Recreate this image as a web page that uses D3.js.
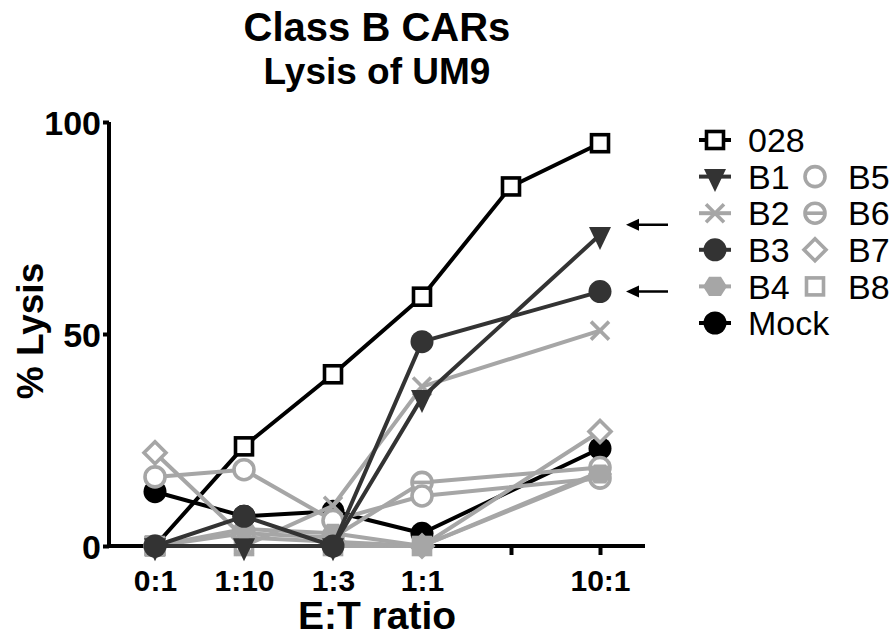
<!DOCTYPE html>
<html>
<head>
<meta charset="utf-8">
<script src="https://cdn.jsdelivr.net/npm/d3@7/dist/d3.min.js"></script>
<style>
	body { margin: 0; background: #fff; }
	text { font-family: Arial, "Liberation Sans", sans-serif; }
</style>
</head>
<body>
<svg id="chart" width="894" height="639"></svg>
<script>
// E:T ratios on the x axis (3:1 has a tick but no label)
const ratios = ['0:1', '1:10', '1:3', '1:1', '3:1', '10:1']
const ratioLabels = ['0:1', '1:10', '1:3', '1:1', '', '10:1']
const yTicks = [0, 50, 100]

// % lysis per ratio, null = not measured
const lysis028 = [0, 23.5, 40.5, 58.8, 84.8, 95]
const lysisB1 = [0, 0, 0, 35, null, 73.4]
const lysisB2 = [0, 0, 9.5, 37.6, null, 50.8]
const lysisB3 = [0, 7, 0, 48.2, null, 60]
const lysisB4 = [0, 4, 3, 0, null, 17]
const lysisB5 = [16.3, 18, 6, 11.8, null, 16]
const lysisB6 = [0, 3, 2, 15, null, 18.5]
const lysisB7 = [22, 2, 1, 0, null, 27]
const lysisB8 = [0, 0, 0, 0, null, 17.5]
const lysisMock = [12.8, 7, 8.2, 3, null, 23]

// arrows on the right point at B1 and B3
const arrowSeries = ['B1', 'B3']

const BLACK = '#000'
const DARK = '#333'
const LIGHT = '#a6a6a6'

// drawing order, bottom first
const series = [
	{ name: '028', values: lysis028, color: BLACK, marker: 'squareOpen' },
	{ name: 'Mock', values: lysisMock, color: BLACK, marker: 'circleFilled' },
	{ name: 'B8', values: lysisB8, color: LIGHT, marker: 'squareOpen' },
	{ name: 'B7', values: lysisB7, color: LIGHT, marker: 'diamondOpen' },
	{ name: 'B6', values: lysisB6, color: LIGHT, marker: 'circleBar' },
	{ name: 'B5', values: lysisB5, color: LIGHT, marker: 'circleOpen' },
	{ name: 'B4', values: lysisB4, color: LIGHT, marker: 'hexFilled' },
	{ name: 'B2', values: lysisB2, color: LIGHT, marker: 'cross' },
	{ name: 'B1', values: lysisB1, color: DARK, marker: 'triDown' },
	{ name: 'B3', values: lysisB3, color: DARK, marker: 'circleFilled' },
]

// legend columns
const legendCol1 = ['028', 'B1', 'B2', 'B3', 'B4', 'Mock']
const legendCol2 = ['B5', 'B6', 'B7', 'B8']

const svg = d3.select('#chart')

const plot = { left: 109, right: 645, top: 122, bottom: 546 }

const x = d3.scalePoint().domain(ratios).range([155, 600])
const y = d3.scaleLinear().domain([0, 100]).range([plot.bottom, plot.top])

const SW = 3.6

function drawMarker(g, type, color, cx, cy) {
	const m = g.append('g').attr('transform', `translate(${cx},${cy})`)
	switch (type) {
		case 'squareOpen':
			m.append('rect').attr('x', -8.5).attr('y', -8.5).attr('width', 17).attr('height', 17)
				.attr('fill', '#fff').attr('stroke', color).attr('stroke-width', SW)
			break
		case 'circleFilled':
			m.append('circle').attr('r', 11.5).attr('fill', color)
			break
		case 'circleOpen':
			m.append('circle').attr('r', 10).attr('fill', '#fff').attr('stroke', color).attr('stroke-width', SW)
			break
		case 'circleBar':
			m.append('circle').attr('r', 10).attr('fill', '#fff').attr('stroke', color).attr('stroke-width', SW)
			m.append('line').attr('x1', -10).attr('x2', 10).attr('stroke', color).attr('stroke-width', SW)
			break
		case 'hexFilled':
			m.append('path').attr('d', d3.line()(d3.range(6).map(i => {
				const a = Math.PI / 3 * i
				return [12 * Math.cos(a), 11 * Math.sin(a)]
			})) + 'Z').attr('fill', color)
			break
		case 'diamondOpen':
			m.append('path').attr('d', 'M0,-11L11,0L0,11L-11,0Z')
				.attr('fill', '#fff').attr('stroke', color).attr('stroke-width', SW)
			break
		case 'cross':
			m.append('path').attr('d', 'M-9,-9L9,9M-9,9L9,-9')
				.attr('stroke', color).attr('stroke-width', SW).attr('fill', 'none')
			break
		case 'triDown':
			m.append('path').attr('d', 'M-11,-7.7L11,-7.7L0,15.3Z').attr('fill', color)
			break
	}
	return m
}

// title
const midX = (plot.left + plot.right) / 2
svg.append('text').attr('x', midX).attr('y', 41).attr('text-anchor', 'middle')
	.attr('font-size', 40).attr('font-weight', 'bold').text('Class B CARs')
svg.append('text').attr('x', midX).attr('y', 84).attr('text-anchor', 'middle')
	.attr('font-size', 37).attr('font-weight', 'bold').text('Lysis of UM9')

// axes
const yAxis = svg.append('g').attr('transform', `translate(${plot.left},0)`)
	.call(d3.axisLeft(y).tickValues(yTicks).tickSize(6).tickPadding(2).tickSizeOuter(0))
const xAxis = svg.append('g').attr('transform', `translate(0,${plot.bottom})`)
	.call(d3.axisBottom(x).tickFormat((d, i) => ratioLabels[i]).tickSize(9).tickPadding(15).tickSizeOuter(0))

yAxis.select('.domain').attr('d', `M0,${plot.top}V${plot.bottom}`)
xAxis.select('.domain').attr('d', `M${plot.left},0H${plot.right}`)
svg.selectAll('.domain, .tick line').attr('stroke', '#000').attr('stroke-width', 4)
yAxis.selectAll('text').attr('font-size', 34).attr('font-weight', 'bold').attr('fill', '#000')
	.attr('dy', '0.36em')
xAxis.selectAll('text').attr('font-size', 30).attr('font-weight', 'bold').attr('fill', '#000')

svg.append('text').attr('transform', `translate(43,${(plot.top + plot.bottom) / 2 - 3}) rotate(-90)`)
	.attr('text-anchor', 'middle').attr('font-size', 37).attr('font-weight', 'bold').text('% Lysis')
svg.append('text').attr('x', midX).attr('y', 629).attr('text-anchor', 'middle')
	.attr('font-size', 39).attr('font-weight', 'bold').text('E:T ratio')

// series
const line = d3.line().x(d => x(d.ratio)).y(d => y(d.value))
const lines = svg.append('g')
series.forEach(s => {
	const pts = ratios.map((r, i) => ({ ratio: r, value: s.values[i] })).filter(d => d.value != null)
	const g = lines.append('g')
	g.append('path').attr('d', line(pts)).attr('fill', 'none')
		.attr('stroke', s.color).attr('stroke-width', 4).attr('stroke-linejoin', 'round')
	pts.forEach(d => drawMarker(g, s.marker, s.color, x(d.ratio), y(d.value)))
})

// arrows
const lastRatio = ratios[ratios.length - 1]
arrowSeries.forEach(name => {
	const s = series.find(el => el.name == name)
	const vy = y(s.values[s.values.length - 1]) - (s.marker == 'triDown' ? 10 : 0)
	const x0 = x(lastRatio) + 26
	svg.append('line').attr('x1', x0 + 6).attr('x2', x0 + 42).attr('y1', vy).attr('y2', vy)
		.attr('stroke', '#000').attr('stroke-width', 2.5)
	svg.append('path').attr('d', `M${x0},${vy}L${x0 + 13},${vy - 6}L${x0 + 13},${vy + 6}Z`).attr('fill', '#000')
})

// legend
const legend = svg.append('g')
const rowY = i => 140 + i * 36.6
legendCol1.forEach((name, i) => {
	const s = series.find(el => el.name == name)
	legend.append('line').attr('x1', 699).attr('x2', 731).attr('y1', rowY(i)).attr('y2', rowY(i))
		.attr('stroke', s.color).attr('stroke-width', 4)
	drawMarker(legend, s.marker, s.color, 715, rowY(i))
	legend.append('text').attr('x', 748).attr('y', rowY(i)).attr('dy', '0.36em')
		.attr('font-size', 34).text(name)
})
legendCol2.forEach((name, i) => {
	const s = series.find(el => el.name == name)
	drawMarker(legend, s.marker, s.color, 815, rowY(i + 1))
	legend.append('text').attr('x', 848).attr('y', rowY(i + 1)).attr('dy', '0.36em')
		.attr('font-size', 34).text(name)
})
</script>
</body>
</html>
